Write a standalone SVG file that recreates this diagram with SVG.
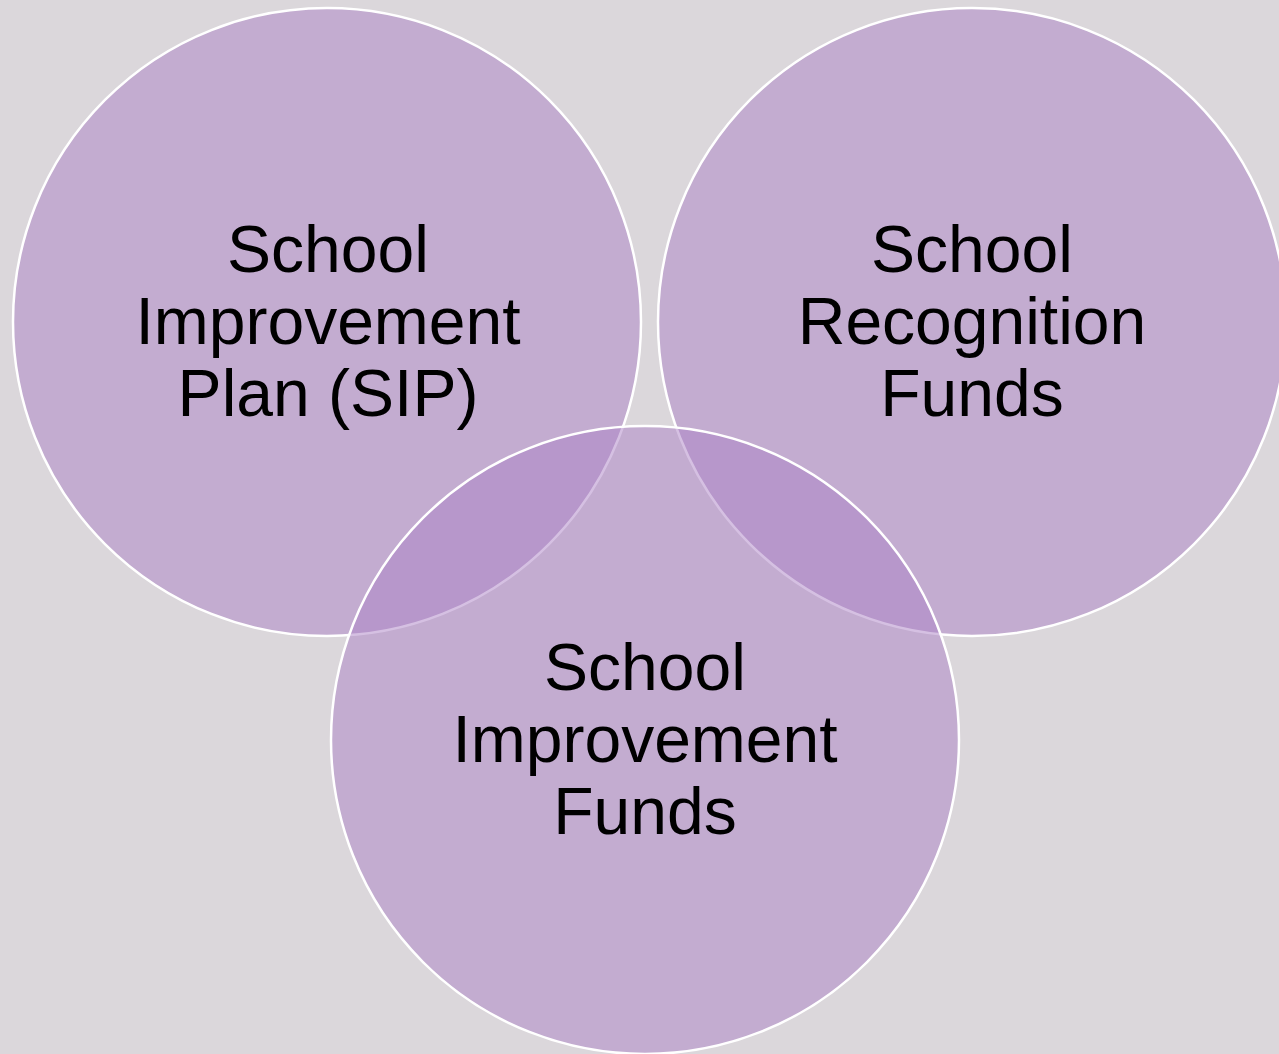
<svg xmlns="http://www.w3.org/2000/svg" width="1279" height="1054" viewBox="0 0 1279 1054">
<style>
.c{fill:#AB81C5;fill-opacity:0.5;stroke:#fff;stroke-width:2.5}
.t{font-family:"Liberation Sans",Arial,sans-serif;font-size:66px;fill:#000;text-anchor:middle}
</style>
<rect width="1279" height="1054" fill="#DBD7DB"/>
<g id="node-sip">
<circle class="c" cx="327" cy="322" r="314"/>
<text class="t" x="328"><tspan x="328" y="272">School</tspan><tspan x="328" y="344">Improvement</tspan><tspan x="328" y="416">Plan (SIP)</tspan></text>
</g>
<g id="node-srf">
<circle class="c" cx="972" cy="322" r="314"/>
<text class="t"><tspan x="972" y="272">School</tspan><tspan x="972" y="344">Recognition</tspan><tspan x="972" y="416">Funds</tspan></text>
</g>
<g id="node-sif">
<circle class="c" cx="645" cy="740" r="314"/>
<text class="t"><tspan x="645" y="690">School</tspan><tspan x="645" y="762">Improvement</tspan><tspan x="645" y="834">Funds</tspan></text>
</g>
<g id="connectors"/>
</svg>
